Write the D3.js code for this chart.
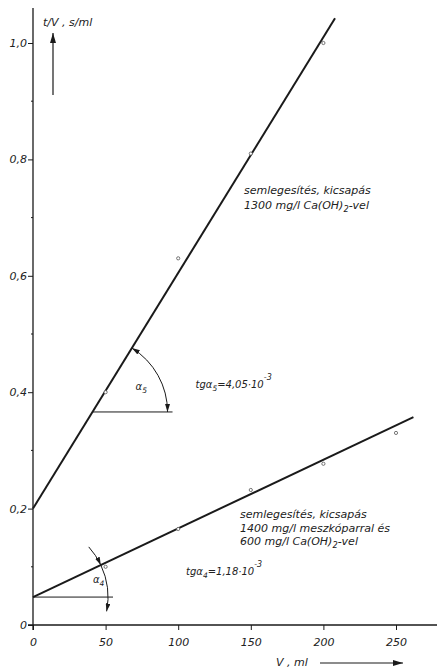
<!DOCTYPE html>
<html><head><meta charset="utf-8">
<script src="https://cdn.jsdelivr.net/npm/d3@7"></script>
<style>
html,body{margin:0;padding:0;background:#fff;}
text{font-family:"DejaVu Sans",sans-serif;font-style:oblique;fill:#222;}
</style></head>
<body><svg id="c" width="437" height="671"></svg>
<script>
// data
const xTicks = [0, 50, 100, 150, 200, 250];
const xTickLabels = ["0", "50", "100", "150", "200", "250"];
const yTicks = [0, 0.2, 0.4, 0.6, 0.8, 1.0];
const yTickLabels = ["0", "0,2", "0,4", "0,6", "0,8", "1,0"];
const yMinorTicks = [0.1, 0.3, 0.5, 0.7, 0.9];
const seriesNames = ["upper", "lower"];
const intercepts = [0.2, 0.048];
const slopes = [4.05e-3, 1.18e-3];
const lineEnds = [208, 262];
const upperV = [50, 100, 150, 200];
const upperT = [0.40, 0.63, 0.81, 1.0];
const lowerV = [50, 100, 150, 200, 250];
const lowerT = [0.10, 0.165, 0.232, 0.277, 0.33];
const upperLabel = ["semlegesítés, kicsapás", "1300 mg/l  Ca(OH)|2|-vel"];
const lowerLabel = ["semlegesítés, kicsapás", "1400 mg/l  meszkóparral  és", "600 mg/l  Ca(OH)|2|-vel"];
const tgLabels = ["4,05", "1,18"];

const svg = d3.select("#c");
const x = d3.scaleLinear().domain([0, 250]).range([33, 396]);
const y = d3.scaleLinear().domain([0, 1]).range([625, 43]);
const ink = "#1a1a1a";
const FONT = '"DejaVu Sans",sans-serif';

const defs = svg.append("defs");
defs.append("marker").attr("id", "ah").attr("viewBox", "0 0 10 6").attr("refX", 10).attr("refY", 3)
  .attr("markerWidth", 10).attr("markerHeight", 6).attr("markerUnits", "userSpaceOnUse").attr("orient", "auto")
  .append("path").attr("d", "M0,0 L10,3 L0,6 Z").attr("fill", ink);
defs.append("marker").attr("id", "ahs").attr("viewBox", "0 0 8 5").attr("refX", 8).attr("refY", 2.5)
  .attr("markerWidth", 8).attr("markerHeight", 5).attr("markerUnits", "userSpaceOnUse").attr("orient", "auto")
  .append("path").attr("d", "M0,0 L8,2.5 L0,5 Z").attr("fill", ink);
defs.append("marker").attr("id", "ahsr").attr("viewBox", "0 0 8 5").attr("refX", 0).attr("refY", 2.5)
  .attr("markerWidth", 8).attr("markerHeight", 5).attr("markerUnits", "userSpaceOnUse").attr("orient", "auto")
  .append("path").attr("d", "M8,0 L0,2.5 L8,5 Z").attr("fill", ink);

// axes
const xAxis = d3.axisBottom(x).tickValues(xTicks).tickFormat((d, i) => xTickLabels[i]).tickSize(5).tickSizeOuter(0);
const gx = svg.append("g").attr("transform", `translate(0,${y(0)})`).call(xAxis);
gx.select(".domain").remove();
gx.append("line").attr("x1", 28).attr("x2", 437).attr("y1", 0).attr("y2", 0).attr("stroke", ink).attr("stroke-width", 1.3);
gx.selectAll(".tick line").attr("stroke", ink);
gx.selectAll(".tick text").attr("font-size", 11).attr("dy", "1.15em").attr("fill", "#222")
  .style("font-family", FONT).style("font-style", "oblique");

const yAxis = d3.axisLeft(y).tickValues(yTicks).tickFormat((d, i) => yTickLabels[i]).tickSize(5).tickSizeOuter(0);
const gy = svg.append("g").attr("transform", `translate(${x(0)},0)`).call(yAxis);
gy.select(".domain").remove();
gy.append("line").attr("x1", 0).attr("x2", 0).attr("y1", 630).attr("y2", 8).attr("stroke", ink).attr("stroke-width", 1.3);
gy.selectAll(".tick line").attr("stroke", ink);
gy.selectAll(".tick text").attr("font-size", 11).attr("x", -6).attr("fill", "#222")
  .style("font-family", FONT).style("font-style", "oblique");
gy.selectAll(".minor").data(yMinorTicks).enter().append("line")
  .attr("x1", -2).attr("x2", 0).attr("y1", d => y(d)).attr("y2", d => y(d)).attr("stroke", ink);

// axis titles
svg.append("text").attr("x", 43).attr("y", 26).attr("font-size", 11).text("t/V , s/ml");
svg.append("line").attr("x1", 53).attr("x2", 53).attr("y1", 95).attr("y2", 33)
  .attr("stroke", ink).attr("stroke-width", 1.2).attr("marker-end", "url(#ah)");
svg.append("text").attr("x", 276).attr("y", 666).attr("font-size", 11).text("V , ml");
svg.append("line").attr("x1", 320).attr("x2", 403).attr("y1", 663).attr("y2", 663)
  .attr("stroke", ink).attr("stroke-width", 1.2).attr("marker-end", "url(#ah)");

// regression lines
const lineGen = d3.line().x(d => x(d[0])).y(d => y(d[1]));
seriesNames.forEach((s, i) => {
  const pts = [[0, intercepts[i]], [lineEnds[i], intercepts[i] + slopes[i] * lineEnds[i]]];
  svg.append("path").attr("d", lineGen(pts)).attr("fill", "none").attr("stroke", ink).attr("stroke-width", 2);
});

// data points
function dots(V, T) {
  svg.append("g").selectAll("circle").data(V).enter().append("circle")
    .attr("cx", d => x(d)).attr("cy", (d, i) => y(T[i])).attr("r", 1.6)
    .attr("fill", "#fff").attr("stroke", "#555").attr("stroke-width", 0.8);
}
dots(upperV, upperT);
dots(lowerV, lowerT);

function richText(xp, yp, str, size) {
  const t = svg.append("text").attr("x", xp).attr("y", yp).attr("font-size", size);
  const parts = str.split("|");
  parts.forEach((p, k) => {
    const ts = t.append("tspan").text(p);
    if (k % 2 === 1) ts.attr("font-size", size * 0.75).attr("dy", 3);
    else if (k > 0) ts.attr("dy", -3);
  });
  return t;
}
upperLabel.forEach((l, k) => richText(244, 194 + k * 15, l, 11));
lowerLabel.forEach((l, k) => richText(240, 518 + k * 13.5, l, 11));

function anchor(i, vAt, r) {
  const cx = x(vAt), cy = y(intercepts[i] + slopes[i] * vAt);
  const pxSlope = (y(0) - y(slopes[i] * 100)) / (x(100) - x(0));
  const th = Math.atan(pxSlope) * 180 / Math.PI;
  svg.append("line").attr("x1", cx).attr("x2", cx + r + 5).attr("y1", cy).attr("y2", cy)
    .attr("stroke", ink).attr("stroke-width", 1);
  return { cx, cy, th };
}
function arcPath(cx, cy, r, a0, a1) {
  const p = d3.path();
  const s = a0 * Math.PI / 180, e = a1 * Math.PI / 180;
  p.moveTo(cx + r * Math.cos(s), cy - r * Math.sin(s));
  p.arc(cx, cy, r, -s, -e, a1 < a0 ? false : true);
  return p.toString();
}
const m1 = anchor(0, 41, 75);
svg.append("path").attr("d", arcPath(m1.cx, m1.cy, 75, m1.th, 0)).attr("fill", "none")
  .attr("stroke", ink).attr("stroke-width", 1).attr("marker-start", "url(#ahsr)").attr("marker-end", "url(#ahs)");
richText(m1.cx + 43, m1.cy - 22, "α|5|", 10);
richText(m1.cx + 103, m1.cy - 24, "tgα|5|=" + tgLabels[0] + "·10", 10).append("tspan")
  .attr("dy", -8).attr("font-size", 8).text("-3");

const m2 = anchor(1, 0, 75);
svg.append("path").attr("d", arcPath(m2.cx, m2.cy, 75, 42, m2.th)).attr("fill", "none")
  .attr("stroke", ink).attr("stroke-width", 1).attr("marker-end", "url(#ahs)");
svg.append("path").attr("d", arcPath(m2.cx, m2.cy, 75, m2.th, -11)).attr("fill", "none")
  .attr("stroke", ink).attr("stroke-width", 1).attr("marker-end", "url(#ahs)");
richText(m2.cx + 60, m2.cy - 14, "α|4|", 10);
richText(m2.cx + 153, m2.cy - 22, "tgα|4|=" + tgLabels[1] + "·10", 10).append("tspan")
  .attr("dy", -8).attr("font-size", 8).text("-3");
</script></body></html>
